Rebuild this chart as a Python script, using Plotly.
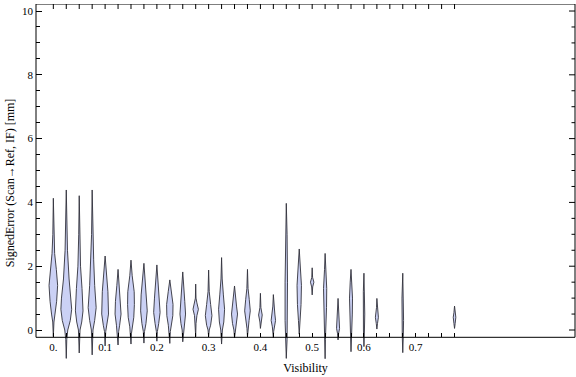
import plotly.graph_objects as go

# Visibility bin centres (x) of each violin
visibility = [0.0, 0.025, 0.05, 0.075, 0.1, 0.125, 0.15, 0.175, 0.2, 0.225,
              0.25, 0.275, 0.3, 0.325, 0.35, 0.375, 0.4, 0.425, 0.45, 0.475,
              0.5, 0.525, 0.55, 0.575, 0.6, 0.625, 0.675, 0.775]

# Profile of each violin: signed error levels [mm] (top to bottom) ...
profile_y = [
    [4.13, 3.0, 2.4, 1.9, 1.4, 0.9, 0.5, 0.25, -0.21],
    [4.39, 3.5, 2.5, 1.6, 1.0, 0.65, 0.3, 0.0, -0.3, -0.89],
    [4.21, 3.0, 2.0, 1.3, 0.6, 0.25, 0.0, -0.72],
    [4.39, 3.0, 2.2, 1.4, 0.7, 0.3, 0.0, -0.78],
    [2.32, 1.8, 1.2, 0.5, 0.15, -0.05, -0.5],
    [1.9, 1.4, 0.9, 0.5, 0.15, -0.05, -0.47],
    [2.19, 1.7, 1.2, 0.8, 0.4, 0.1, -0.1, -0.44],
    [2.09, 1.6, 1.1, 0.6, 0.2, -0.05, -0.41],
    [2.04, 1.5, 1.0, 0.55, 0.2, -0.05, -0.35],
    [1.57, 1.2, 0.8, 0.45, 0.15, -0.05, -0.42],
    [1.82, 1.3, 0.9, 0.5, 0.2, 0.0, -0.37],
    [1.44, 1.0, 0.85, 0.65, 0.45, 0.2, -0.21],
    [1.88, 1.2, 0.8, 0.45, 0.15, 0.0, -0.21],
    [2.27, 1.6, 1.1, 0.65, 0.25, 0.0, -0.44],
    [1.38, 1.0, 0.75, 0.5, 0.2, 0.0, -0.25],
    [1.9, 1.3, 0.95, 0.6, 0.3, 0.05, -0.21],
    [1.15, 0.7, 0.47, 0.25, 0.05],
    [1.11, 0.75, 0.5, 0.3, 0.1, -0.05, -0.24],
    [3.97, 3.0, 1.5, 0.3, -0.3, -0.89],
    [2.54, 2.0, 1.4, 0.8, 0.3, -0.13],
    [1.95, 1.65, 1.5, 1.35, 1.1],
    [2.40, 1.9, 1.3, 0.7, 0.2, -0.3, -0.9],
    [0.99, 0.6, 0.25, 0.05, -0.1, -0.31],
    [1.90, 1.5, 1.0, 0.5, 0.0, -0.68],
    [1.78, 1.2, 0.5, 0.0, -0.52],
    [0.99, 0.7, 0.4, 0.2, 0.03],
    [1.78, 1.0, 0.3, -0.2, -0.71],
    [0.75, 0.55, 0.4, 0.2, 0.05],
]

# ... and the (relative) density at those levels
profile_density = [
    [0, 0.5, 1.3, 3.0, 4.3, 3.3, 1.8, 0.6, 0],
    [0, 0.7, 1.2, 2.8, 4.8, 5.4, 4.0, 1.5, 0.5, 0],
    [0, 0.5, 1.3, 2.8, 3.8, 2.5, 0.8, 0],
    [0, 0.6, 1.5, 2.5, 4.0, 2.5, 0.8, 0],
    [0, 1.3, 2.8, 3.4, 1.8, 0.6, 0],
    [0, 1.2, 2.6, 3.0, 1.6, 0.6, 0],
    [0, 1.2, 3.2, 3.4, 2.8, 1.2, 0.5, 0],
    [0, 1.2, 2.8, 3.3, 2.0, 0.6, 0],
    [0, 1.0, 2.4, 3.2, 1.8, 0.5, 0],
    [0, 1.6, 3.2, 3.0, 1.5, 0.5, 0],
    [0, 0.8, 2.0, 2.8, 1.8, 0.6, 0],
    [0, 0.3, 1.2, 2.7, 1.2, 0.3, 0],
    [0, 0.6, 2.0, 3.3, 2.0, 0.6, 0],
    [0, 0.6, 1.8, 3.0, 2.2, 0.8, 0],
    [0, 0.8, 2.0, 3.0, 2.0, 0.6, 0],
    [0, 0.6, 1.8, 2.8, 1.6, 0.5, 0],
    [0, 0.5, 1.8, 0.5, 0],
    [0, 0.5, 1.5, 2.2, 1.0, 0.3, 0],
    [0, 0.8, 1.2, 1.2, 0.8, 0],
    [0, 1.0, 2.2, 1.8, 0.8, 0],
    [0, 0.4, 1.7, 0.5, 0],
    [0, 0.6, 1.6, 1.4, 0.6, 0.3, 0],
    [0, 0.5, 1.2, 1.5, 0.6, 0],
    [0, 0.8, 1.5, 1.3, 0.6, 0],
    [0, 0.6, 0.8, 0.5, 0],
    [0, 0.4, 1.5, 0.6, 0],
    [0, 0.8, 0.8, 0.5, 0],
    [0, 0.6, 1.3, 0.6, 0],
]

x_tick_vals = [i * 0.025 for i in range(32)]
x_tick_labels = {0.0: "0.", 0.1: "0.1", 0.2: "0.2", 0.3: "0.3", 0.4: "0.4",
                 0.5: "0.5", 0.6: "0.6", 0.7: "0.7"}
y_major = [0, 2, 4, 6, 8, 10]
y_minor = [v * 0.5 for v in range(1, 21) if v % 4 != 0]

# ---- styling constants ----
DENSITY_TO_X = 1.0 / 517.4   # half-width (x units) per density unit
FILL = "rgb(203,209,245)"
EDGE = "rgba(50,50,60,0.9)"
FONT = "Liberation Serif"
X_RANGE = [-0.0335, 1.0077]
Y_RANGE = [-1.003, 10.22]
FRAME_BOTTOM = -0.229
PLOT_W, PLOT_H = 539.0, 358.0   # plot-area size in px (576-36-1, 377-4-15)

fig = go.Figure()
for xc, ys, ds in zip(visibility, profile_y, profile_density):
    right_x = [xc + d * DENSITY_TO_X for d in ds]
    left_x = [xc - d * DENSITY_TO_X for d in reversed(ds)]
    fig.add_trace(go.Scatter(
        x=right_x + left_x,
        y=list(ys) + list(reversed(ys)),
        mode="lines", fill="toself", fillcolor=FILL,
        line=dict(color=EDGE, width=1),
        hoverinfo="skip", showlegend=False,
    ))

axis_pos = (FRAME_BOTTOM - Y_RANGE[0]) / (Y_RANGE[1] - Y_RANGE[0])
x_labels = [x_tick_labels.get(round(v, 3), "") for v in x_tick_vals]
tick_style = dict(ticks="inside", tickcolor="black", tickwidth=1,
                  showline=False, showgrid=False, zeroline=False, automargin=False)

line_k = dict(color="black", width=1)
shapes = [
    dict(type="line", xref="paper", yref="y", x0=0, x1=0, y0=FRAME_BOTTOM, y1=Y_RANGE[1], line=line_k),
    dict(type="line", xref="paper", yref="y", x0=1, x1=1, y0=FRAME_BOTTOM, y1=Y_RANGE[1], line=line_k),
    dict(type="line", xref="paper", yref="y", x0=0, x1=1, y0=Y_RANGE[1], y1=Y_RANGE[1], line=line_k),
    dict(type="line", xref="paper", yref="y", x0=0, x1=1, y0=FRAME_BOTTOM, y1=FRAME_BOTTOM, line=line_k),
]
# mirrored ticks on the top edge
for v in x_tick_vals:
    shapes.append(dict(type="line", xref="x", yref="paper", x0=v, x1=v,
                       y0=1, y1=1 - 5 / PLOT_H, line=line_k))
# mirrored ticks on the right edge
for v in y_major:
    shapes.append(dict(type="line", xref="paper", yref="y", x0=1, x1=1 - 6 / PLOT_W,
                       y0=v, y1=v, line=line_k))
for v in y_minor:
    shapes.append(dict(type="line", xref="paper", yref="y", x0=1, x1=1 - 3.5 / PLOT_W,
                       y0=v, y1=v, line=line_k))

fig.update_layout(
    width=576, height=377,
    margin=dict(l=36, r=1, t=4, b=15),
    paper_bgcolor="white", plot_bgcolor="white",
    font=dict(family=FONT, size=11, color="black"),
    xaxis=dict(
        range=X_RANGE, tickmode="array", tickvals=x_tick_vals, ticktext=x_labels,
        ticklen=4, anchor="free", position=axis_pos, ticklabelstandoff=2,
        title=dict(text="Visibility", font=dict(family=FONT, size=12), standoff=11),
        **tick_style,
    ),
    yaxis=dict(
        range=Y_RANGE, tickmode="array", tickvals=y_major, ticklen=6,
        minor=dict(tickmode="array", tickvals=y_minor, ticks="inside",
                   ticklen=3.5, tickcolor="black", tickwidth=1),
        ticklabelstandoff=2,
        title=dict(text="SignedError (Scan\u2192Ref, IF) [mm]",
                   font=dict(family=FONT, size=12), standoff=4),
        **tick_style,
    ),
    shapes=shapes,
)

fig.write_html("out.html", config={"displayModeBar": False},
               post_script="document.body.style.margin='0';")
